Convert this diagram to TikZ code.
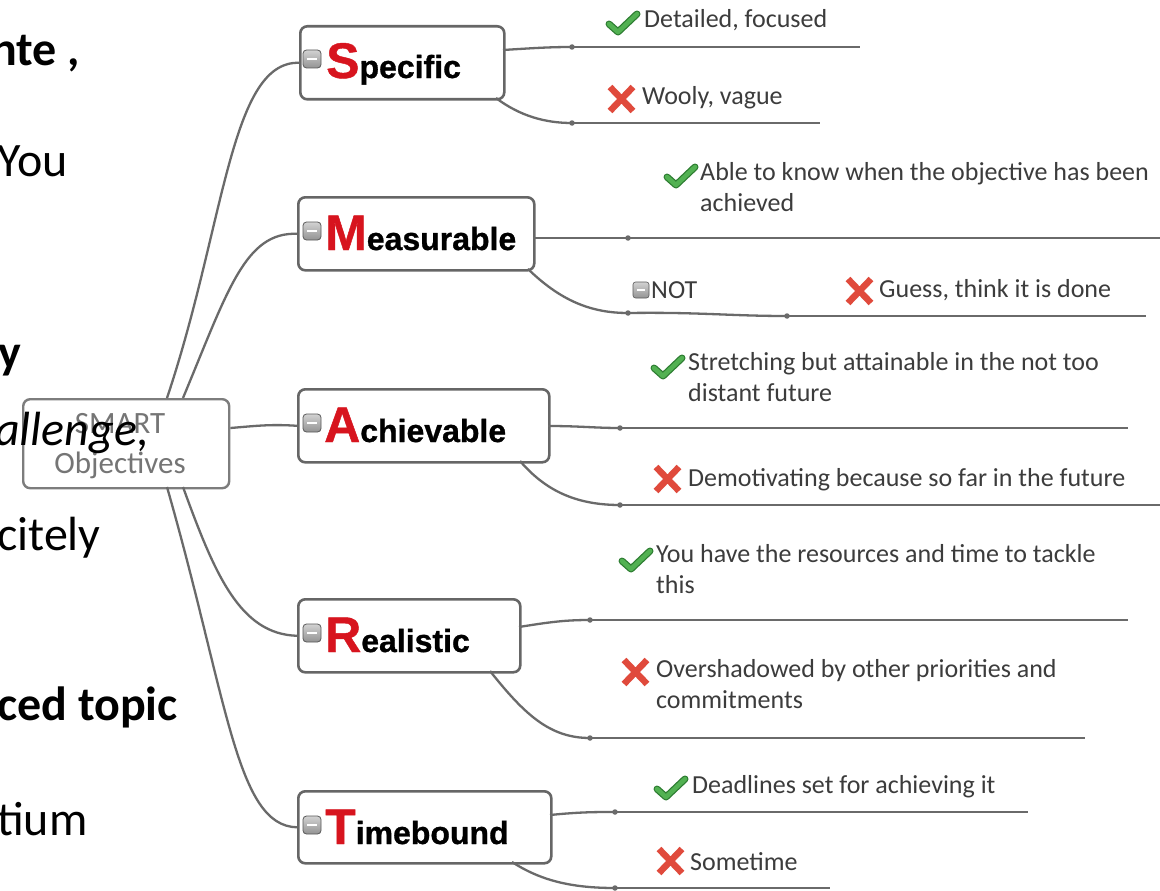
\documentclass[tikz,border=0pt]{standalone}
\usepackage{fontspec}
\setmainfont{Carlito}
\newfontfamily\lsans{Liberation Sans}[FakeBold=0.9]
\definecolor{linegray}{HTML}{6A6A6A}
\definecolor{boxgray}{HTML}{666666}
\definecolor{leafgray}{HTML}{3C3C3C}
\definecolor{smartgray}{HTML}{757575}
\definecolor{initred}{HTML}{D7141E}
\definecolor{chkgreen}{HTML}{52B152}
\definecolor{chkdark}{HTML}{2E7D32}
\definecolor{xred}{HTML}{E04A3C}
\newcommand\myinit[1]{{\lsans\bfseries\fontsize{50}{50}\selectfont\color{initred}#1}}
\newcommand\myrest[1]{{\lsans\bfseries\fontsize{32}{32}\selectfont\color{black}#1}}
\tikzset{
  branch/.style={draw=boxgray, line width=2.6pt, rounded corners=7pt, fill=white, inner sep=0pt, anchor=north west},
  smartbox/.style={draw=boxgray!85, line width=2.4pt, rounded corners=7pt, fill=white, inner sep=0pt, anchor=north west},
  conn/.style={draw=linegray, line width=2.3pt},
  leafline/.style={draw=linegray, line width=2.6pt},
  dotn/.style={circle, fill=linegray, inner sep=0pt, minimum size=5.5pt},
  leaf/.style={font=\fontsize{26}{31}\selectfont, text=leafgray, inner sep=0pt, anchor=base west},
  leafml/.style={font=\fontsize{26}{31}\selectfont, text=leafgray, inner sep=0pt, anchor=north west, align=left},
  blabel/.style={inner sep=0pt, anchor=base west},
  collapse/.style={draw=gray!70!black, line width=0.8pt, rounded corners=3.5pt, top color=gray!35, bottom color=gray!85, minimum size=18pt, inner sep=0pt},
  smallcollapse/.style={draw=gray!70!black, line width=0.6pt, rounded corners=2.5pt, top color=gray!35, bottom color=gray!85, minimum size=16pt, inner sep=0pt},
  bgtext/.style={font=\fontsize{48}{58}\selectfont, text=black, inner sep=0pt, anchor=base west},
  chk/.pic={\draw[chkdark, line width=7pt, line cap=round, line join=round] (2,13) -- (11,21) -- (30,3);
            \draw[chkgreen, line width=4.5pt, line cap=round, line join=round] (2,13) -- (11,21) -- (30,3);},
  xmark/.pic={\draw[xred, line width=6.5pt] (3,3) -- (26,27) (26,3) -- (3,27);},
}
\begin{document}
\begin{tikzpicture}[x=1pt,y=-1pt]
\useasboundingbox (0,0) rectangle (1160,891);
\clip (0,0) rectangle (1160,891);
\fill[white] (0,0) rectangle (1160,891);

% central node
\node[smartbox, minimum width=206pt, minimum height=89pt] (C) at (22,398) {};
\node[font=\fontsize{31}{40}\selectfont, text=smartgray, align=center, inner sep=0pt] (Ct) at (120,446) {SMART\\Objectives};

% branch boxes
\node[branch, minimum width=204pt, minimum height=73pt] (S) at (299,25) {};
\node[branch, minimum width=236pt, minimum height=73pt] (M) at (297,196) {};
\node[branch, minimum width=251pt, minimum height=73pt] (A) at (297,388) {};
\node[branch, minimum width=222pt, minimum height=73pt] (R) at (297,598) {};
\node[branch, minimum width=253pt, minimum height=72pt] (T) at (297,790) {};

% branch labels
\node[blabel] (St) at (326,78) {\myinit{S}\myrest{pecific}};
\node[blabel] (Mt) at (325,250) {\myinit{M}\myrest{easurable}};
\node[blabel] (At) at (324,442) {\myinit{A}\myrest{chievable}};
\node[blabel] (Rt) at (325,652) {\myinit{R}\myrest{ealistic}};
\node[blabel] (Tt) at (325,844) {\myinit{T}\myrest{imebound}};

% collapse icons
\foreach \n/\yy in {Si/59, Mi/231, Ai/423, Ri/633, Ti/825}{
  \node[collapse] (\n) at (312,\yy) {};
  \draw[white, line width=1.8pt] ([xshift=-5pt]\n.center) -- ([xshift=5pt]\n.center);
}

% central connectors
\coordinate (c1) at (167,398);
\coordinate (c2) at (183,398);
\coordinate (c3) at (167,487);
\coordinate (c4) at (183,487);
\draw[conn] (c1) .. controls (225,225) and (230,61) .. (S.west);
\draw[conn] (c2) .. controls (228,290) and (245,232) .. (M.west);
\draw[conn] (C.east |- 0,428) .. controls (255,426) and (270,424) .. (A.west);
\draw[conn] (c4) .. controls (215,575) and (240,634) .. (R.west);
\draw[conn] (c3) .. controls (228,700) and (236,826) .. (T.west);

% ---------- Specific leaves
\coordinate (Sa) at (503,50);
\coordinate (Sb) at (496,98);
\node[dotn] (Sd1) at (572,47) {};
\node[dotn] (Sd2) at (572,123) {};
\coordinate (Se1) at (860,47);
\coordinate (Se2) at (820,123);
\draw[conn] (Sa) .. controls (535,48) and (550,47) .. (Sd1.center);
\draw[leafline] (Sd1.center) -- (Se1);
\draw[conn] (Sb) .. controls (520,116) and (545,123) .. (Sd2.center);
\draw[leafline] (Sd2.center) -- (Se2);
\pic at (607,11) {chk};
\node[leaf] (S1) at (644,28) {Detailed, focused};
\pic at (607,84) {xmark};
\node[leaf] (S2) at (642,104) {Wooly, vague};

% ---------- Measurable leaves
\coordinate (Ma) at (533,238);
\coordinate (Mb) at (528,269);
\node[dotn] (Md1) at (628,238) {};
\node[dotn] (Md2) at (628,313) {};
\node[dotn] (Md3) at (787,316) {};
\coordinate (Me1) at (1165,238);
\coordinate (Me2) at (1146,316);
\draw[leafline] (Ma) -- (Md1.center) -- (Me1);
\draw[conn] (Mb) .. controls (560,300) and (590,313) .. (Md2.center);
\draw[conn] (Md2.center) .. controls (700,312) and (730,316) .. (Md3.center);
\draw[leafline] (Md3.center) -- (Me2);
\pic at (665,164) {chk};
\node[leafml] (M1) at (700,162) {Able to know when the objective has been\\achieved};
\node[smallcollapse] (Ni) at (641,290) {};
\draw[white, line width=1.5pt] ([xshift=-4pt]Ni.center) -- ([xshift=4pt]Ni.center);
\node[leaf] (Nt) at (651,298) {NOT};
\pic at (845,276) {xmark};
\node[leaf] (M2) at (879,297) {Guess, think it is done};

% ---------- Achievable leaves
\coordinate (Aa) at (548,426);
\coordinate (Ab) at (520,461);
\node[dotn] (Ad1) at (620,428) {};
\node[dotn] (Ad2) at (620,505) {};
\coordinate (Ae1) at (1128,428);
\coordinate (Ae2) at (1165,505);
\draw[conn] (Aa) .. controls (580,426) and (595,428) .. (Ad1.center);
\draw[leafline] (Ad1.center) -- (Ae1);
\draw[conn] (Ab) .. controls (545,490) and (575,505) .. (Ad2.center);
\draw[leafline] (Ad2.center) -- (Ae2);
\pic at (652,355) {chk};
\node[leafml] (A1) at (688,352) {Stretching but attainable in the not too\\distant future};
\pic at (653,464) {xmark};
\node[leaf] (A2) at (688,486) {Demotivating because so far in the future};

% ---------- Realistic leaves
\coordinate (Ra) at (519,627);
\coordinate (Rb) at (490,671);
\node[dotn] (Rd1) at (590,620) {};
\node[dotn] (Rd2) at (590,738) {};
\coordinate (Re1) at (1128,620);
\coordinate (Re2) at (1085,738);
\draw[conn] (Ra) .. controls (550,622) and (565,620) .. (Rd1.center);
\draw[leafline] (Rd1.center) -- (Re1);
\draw[conn] (Rb) .. controls (525,715) and (550,738) .. (Rd2.center);
\draw[leafline] (Rd2.center) -- (Re2);
\pic at (620,548) {chk};
\node[leafml] (R1) at (656,544) {You have the resources and time to tackle\\this};
\pic at (621,657) {xmark};
\node[leafml] (R2) at (656,659) {Overshadowed by other priorities and\\commitments};

% ---------- Timebound leaves
\coordinate (Ta) at (550,815);
\coordinate (Tb) at (512,862);
\node[dotn] (Td1) at (615,812) {};
\node[dotn] (Td2) at (615,888) {};
\coordinate (Te1) at (1028,812);
\coordinate (Te2) at (830,888);
\draw[conn] (Ta) .. controls (580,812) and (595,812) .. (Td1.center);
\draw[leafline] (Td1.center) -- (Te1);
\draw[conn] (Tb) .. controls (540,880) and (570,888) .. (Td2.center);
\draw[leafline] (Td2.center) -- (Te2);
\pic at (655,776) {chk};
\node[leaf] (T1) at (692,793) {Deadlines set for achieving it};
\pic at (656,846) {xmark};
\node[leaf] (T2) at (690,870) {Sometime};

% ---------- background slide text (clipped)
\node[bgtext, font=\fontsize{48}{58}\selectfont\bfseries] (b1) at (-9,66) {nte ,};
\node[bgtext] (b2) at (-3,176) {You};
\node[bgtext, font=\fontsize{48}{58}\selectfont\bfseries] (b3) at (-2,368) {y};
\node[bgtext, font=\fontsize{48}{58}\selectfont\itshape] (b4) at (-5,445) {allenge,};
\node[bgtext] (b5) at (-3,550) {citely};
\node[bgtext, font=\fontsize{48}{58}\selectfont\bfseries] (b6) at (-3,720) {ced topic};
\node[bgtext] (b7) at (-3,835) {tium};
\end{tikzpicture}
\end{document}
